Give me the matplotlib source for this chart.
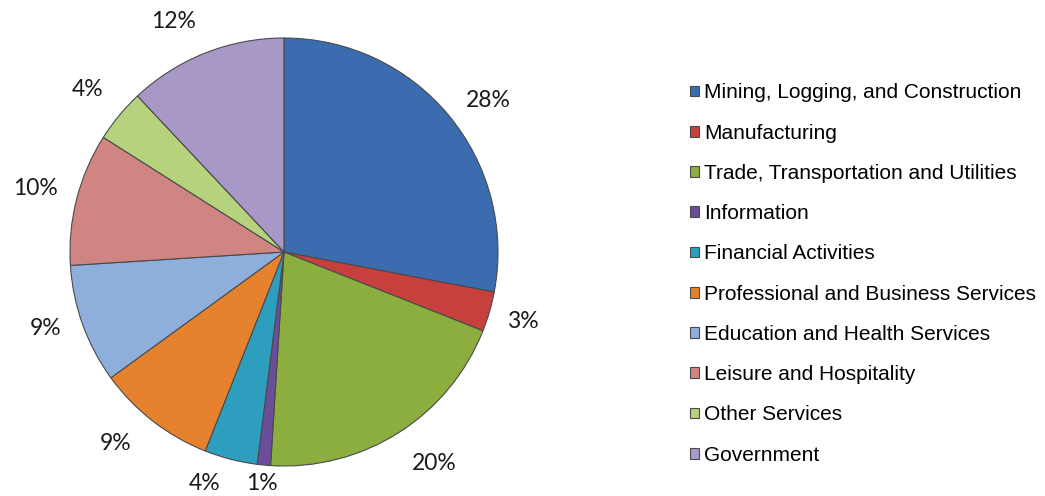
import matplotlib
matplotlib.use('Agg')
import numpy as np
import matplotlib.pyplot as plt

sectors = ['Mining, Logging, and Construction', 'Manufacturing',
           'Trade, Transportation and Utilities', 'Information',
           'Financial Activities', 'Professional and Business Services',
           'Education and Health Services', 'Leisure and Hospitality',
           'Other Services', 'Government']
shares = [28, 3, 20, 1, 4, 9, 9, 10, 4, 12]
colors = ['#3b6cb0', '#c8403e', '#8bae3f', '#6b4e9a', '#2e9ebe',
          '#e6822e', '#8eaedc', '#d08582', '#b6d27d', '#a798c8']
# percent label placement (Excel-like): radius in pie radii, angle nudge in degrees
label_r = [1.19, 1.16, 1.21, 1.085, 1.145, 1.19, 1.17, 1.20, 1.19, 1.195]
label_dang = [-3, 0, 3, 0, -4.5, -3.5, -2, 0, 0, 4]

fig = plt.figure(figsize=(10.45, 4.96), dpi=100)
ax = fig.add_axes([70/1045, 30/496, 428/1045, 428/496])

wedges, texts, autotexts = ax.pie(
    shares, colors=colors, startangle=90, counterclock=False,
    autopct='%1.0f%%', pctdistance=1.19, radius=1,
    wedgeprops=dict(edgecolor='#4a4a4a', linewidth=0.8),
    textprops=dict(family='Lato', fontsize=16.5, color='#1a1a1a'))
for w, t, r, da in zip(wedges, autotexts, label_r, label_dang):
    ang = np.deg2rad((w.theta1 + w.theta2) / 2 + da)
    t.set_position((r * np.cos(ang), r * np.sin(ang)))
    t.set_clip_on(False)
ax.set_xlim(-1, 1)
ax.set_ylim(-1, 1)
ax.set_aspect('equal')

fig.legend(wedges, sectors, loc='center left', bbox_to_anchor=(690/1045, 0.4476),
           frameon=False, borderpad=0, borderaxespad=0,
           prop=dict(family='Liberation Sans', size=15),
           handlelength=0.42, handleheight=0.42, handletextpad=0.25,
           labelspacing=1.02)

fig.savefig('out.png', dpi=100)
